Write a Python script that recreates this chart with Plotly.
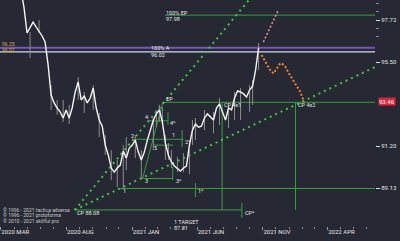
import math
import plotly.graph_objects as go
import pandas as pd

BG = "#262933"
GREEN = "#34a03c"
DOT_GREEN = "#3fc63f"
TXT = "#e6e6e6"
FONT = "Roboto"

# ---- price series (weekly closes) ----
dates = pd.date_range("2020-04-17", periods=80, freq="7D")
close = [99.34, 98.37, 97.03, 97.35, 97.61, 97.35, 97.14, 96.87, 96.55, 95.35,
         93.79, 93.39, 93.13, 92.93, 92.62, 93.03, 92.62, 93.13, 93.95, 94.46,
         93.54, 93.74, 93.39, 93.64, 94.15, 93.13, 92.52, 92.21, 91.26, 90.77,
         90.12, 89.92, 90.12, 90.27, 90.96, 90.62, 91.11, 91.26, 91.51, 90.91,
         90.52, 90.91, 91.51, 92.01, 92.52, 92.83, 93.03, 92.42, 91.36, 90.77,
         90.42, 90.22, 90.07, 89.97, 90.12, 90.22, 91.26, 92.01, 92.32, 92.16,
         92.21, 92.62, 92.83, 92.67, 92.52, 93.13, 93.34, 92.93, 92.52, 93.13,
         93.03, 93.64, 94.00, 93.95, 93.85, 93.69, 94.05, 94.25, 95.08, 96.24]

wick_idx = [3, 6, 10, 12, 14, 16, 19, 21, 24, 26, 28, 30, 32, 34, 35, 38, 40, 44, 45, 46,
            47, 48, 49, 50, 52, 54, 56, 57, 58, 61, 64, 66, 69, 71, 73, 76, 77, 79]
wick_hi = [97.08, 97.72, 94.30, 93.54, 93.54, 93.29, 94.72, 93.95, 94.30, 92.88,
           91.76, 91.01, 90.52, 91.26, 91.66, 91.76, 91.01, 92.62, 93.03, 93.29,
           93.18, 91.76, 91.36, 91.01, 90.67, 90.86, 91.01, 92.52, 92.62, 93.03,
           92.93, 93.64, 93.29, 93.95, 94.15, 94.30, 94.56, 96.50]
wick_lo = [95.72, 97.03, 93.03, 92.78, 92.42, 92.32, 93.54, 92.88, 93.03, 91.66,
           90.77, 89.53, 89.19, 89.14, 90.02, 90.62, 89.58, 91.01, 92.16, 92.42,
           92.27, 90.52, 90.52, 90.12, 89.92, 89.92, 89.82, 91.26, 91.51, 92.01,
           91.86, 92.27, 92.11, 92.52, 92.52, 92.93, 93.29, 95.08]

# ---- axis ----
x_start = "2020-02-28"
x_end = "2022-07-20"
x_tickvals = ["2020-03-01", "2020-08-01", "2021-01-01", "2021-06-01", "2021-11-01", "2022-04-01"]
x_ticktext = ["2020 MAR", "2020 AUG", "2021 JAN", "2021 JUN", "2021 NOV", "2022 APR"]
y_tickvals = [97.72, 95.50, 91.20, 89.13]
y_ticktext = ["97.72", "95.50", "91.20", "89.13"]
y_bottom = 87.31
y_top = 98.795
last_price = 93.46

# ---- levels ----
lvl_purple = 96.25
lvl_a100 = 96.03

# solid green segments
seg_x0 = ["2021-03-18", "2021-03-13", "2020-12-03", "2020-08-20", "2021-07-29", "2022-01-16",
          "2021-09-13", "2021-05-28", "2021-04-27", "2021-03-25", "2021-04-05",
          "2021-01-05", "2021-02-06", "2021-02-18", "2021-01-25", "2021-01-25"]
seg_x1 = [x_end, x_end, x_end, "2021-09-13", "2021-07-29", "2022-01-16",
          "2021-09-13", "2021-05-28", "2021-04-27", "2021-03-25", "2021-04-05",
          "2021-04-30", "2021-03-25", "2021-04-06", "2021-04-06", "2021-03-13"]
seg_y0 = [97.98, 93.42, 89.12, 88.08, 93.42, 93.42, 88.41, 89.38, 92.01, 92.93, 90.17,
          91.55, 92.48, 91.26, 89.61, 89.61]
seg_y1 = [97.98, 93.42, 89.12, 88.08, 88.08, 88.08, 87.70, 88.70, 91.16, 92.27, 89.53,
          91.55, 92.48, 91.26, 89.61, 93.42]

# dotted fan lines
fan_x0 = ["2020-08-20", "2020-08-20"]
fan_x1 = ["2021-10-19", x_end]
fan_y0 = [88.08, 88.08]
fan_y1 = [99.34, 95.24]

# projections
proj_dates = ["2021-10-29", "2021-11-10", "2021-11-18", "2021-11-26", "2021-12-04", "2021-12-11",
              "2021-12-15", "2021-12-23", "2022-01-03", "2022-01-15", "2022-01-27", "2022-02-05"]
proj_vals = [95.87, 95.35, 95.08, 94.91, 95.17, 95.43, 95.43, 95.26, 94.82, 94.39, 93.96, 93.44]
alt_dates = ["2021-11-02", "2021-12-07"]
alt_vals = [96.55, 98.26]

# labels: text, date, value
lab_text = ["100% EP", "97.98", "100% A", "96.02", "EP", "CP 4x1", "CP 4x2",
            "2", "4.", "5", "3", "2*", "4*", "3*", "1", "1*", "1",
            "CP 88.08", "CP*", "1 TARGET"]
lab_date = ["2021-03-18", "2021-03-18", "2021-02-11", "2021-02-11", "2021-03-18", "2021-08-01",
            "2022-01-19", "2020-12-27", "2021-01-29", "2021-02-18", "2021-01-28", "2021-05-01",
            "2021-03-28", "2021-04-10", "2020-12-08", "2021-05-31", "2021-04-02",
            "2020-08-23", "2021-09-18", "2021-04-06"]
lab_val = [98.12, 97.77, 96.26, 95.88, 93.59, 93.30, 93.30,
           91.73, 92.69, 91.12, 89.50, 91.42, 92.39, 89.50, 88.99, 89.00, 91.76,
           87.91, 87.91, 87.52]
target_text = "87.01"
target_date = "2021-04-06"

copyright_lines = ["© 1996 - 2021 tactica adversa", "© 1996 - 2021 protoforma",
                   "© 2010 - 2021 skillful pro"]

fig = go.Figure()


def seg_trace(x0, x1, y0, y1, color, width, dash="solid"):
    xs, ys = [], []
    for a, b, c, d in zip(x0, x1, y0, y1):
        xs += [a, b, None]
        ys += [c, d, None]
    return go.Scatter(x=xs, y=ys, mode="lines", line=dict(color=color, width=width, dash=dash),
                      hoverinfo="skip", showlegend=False)


fig.add_trace(seg_trace([x_start], [x_end], [lvl_purple], [lvl_purple], "#7b52c0", 1.8))
fig.add_trace(seg_trace([x_start], [x_end], [lvl_a100], [lvl_a100], "#cfe0dc", 1.4))
fig.add_trace(seg_trace(seg_x0, seg_x1, seg_y0, seg_y1, GREEN, 1))
fig.add_trace(seg_trace(fan_x0, fan_x1, fan_y0, fan_y1, DOT_GREEN, 2, "2px,4px"))

wx, wy = [], []
for i, h, l in zip(wick_idx, wick_hi, wick_lo):
    wx += [dates[i], dates[i], None]
    wy += [l, h, None]
fig.add_trace(go.Scatter(x=wx, y=wy, mode="lines", line=dict(color="#8c8c8c", width=1),
                         hoverinfo="skip", showlegend=False))
fig.add_trace(go.Scatter(x=dates, y=close, mode="lines", line=dict(color="#f4f4f4", width=1.4),
                         hoverinfo="skip", showlegend=False))
fig.add_trace(go.Scatter(x=proj_dates, y=proj_vals, mode="lines",
                         line=dict(color="#f0842c", width=2, dash="2px,2px"),
                         hoverinfo="skip", showlegend=False))
fig.add_trace(go.Scatter(x=alt_dates, y=alt_vals, mode="lines",
                         line=dict(color="#e88a8a", width=1.6, dash="2px,2px"),
                         hoverinfo="skip", showlegend=False))

L = math.log10
anns = []
for t, d, v in zip(lab_text, lab_date, lab_val):
    anns.append(dict(x=d, y=L(v), xref="x", yref="y", text=t, showarrow=False,
                     xanchor="left", yanchor="middle", borderpad=0,
                     font=dict(family=FONT, size=5.5, color=TXT)))
anns.append(dict(x=target_date, xref="x", y=-0.01, yref="paper", text=target_text,
                 showarrow=False, xanchor="left", yanchor="middle", borderpad=0,
                 font=dict(family=FONT, size=5.5, color=TXT)))
for lv, t, sh in [(lvl_purple, "96.25", 0), (lvl_a100, "96.02", -2)]:
    anns.append(dict(x=0.003, xref="paper", y=L(lv), yref="y", text=t, showarrow=False,
                     xanchor="left", yanchor="bottom", yshift=sh, borderpad=0,
                     font=dict(family=FONT, size=5, color="#d9a94a")))
for k, t in enumerate(copyright_lines):
    anns.append(dict(x=0.005, xref="paper", y=0.071 - k * 0.0245, yref="paper", text=t,
                     showarrow=False, xanchor="left", yanchor="middle", borderpad=0,
                     font=dict(family=FONT, size=5, color="#c8c8c8")))
anns.append(dict(x=1, xref="paper", y=L(last_price), yref="y", text="93.46", showarrow=False,
                 xanchor="left", yanchor="middle", xshift=3, bgcolor="#e5213a",
                 borderpad=0, font=dict(family=FONT, size=6, color="#ffffff")))

# minor y ticks: five steps between labelled levels (log spacing)
y_minor_step = (L(97.72) - L(95.50)) / 5
y_minor = [round(10 ** (L(97.72) + k * y_minor_step), 4) for k in range(-2, 26)]

fig.update_layout(
    width=400, height=241, autosize=False,
    margin=dict(l=0, r=25, t=0, b=15),
    paper_bgcolor=BG, plot_bgcolor=BG,
    annotations=anns,
    xaxis=dict(type="date", range=[x_start, x_end], showgrid=False, zeroline=False,
               showline=False, tickmode="array", tickvals=x_tickvals, ticktext=x_ticktext,
               ticks="outside", ticklen=3, tickcolor="#9a9a9a",
               ticklabelposition="outside right",
               tickfont=dict(family=FONT, size=6, color=TXT),
               minor=dict(dtick="M1", tick0="2020-03-01", ticks="outside", ticklen=2,
                          tickcolor="#8a8a8a", showgrid=False)),
    yaxis=dict(type="log", side="right", range=[L(y_bottom), L(y_top)], showgrid=False,
               zeroline=False, showline=False, tickmode="array", tickvals=y_tickvals,
               ticktext=y_ticktext, ticks="outside", ticklen=4, tickcolor="#dddddd",
               tickfont=dict(family=FONT, size=6, color=TXT),
               minor=dict(tickmode="array", tickvals=y_minor, ticks="outside",
                          ticklen=3, tickcolor="#8a8a8a", showgrid=False)),
)

fig.write_html("out.html")
